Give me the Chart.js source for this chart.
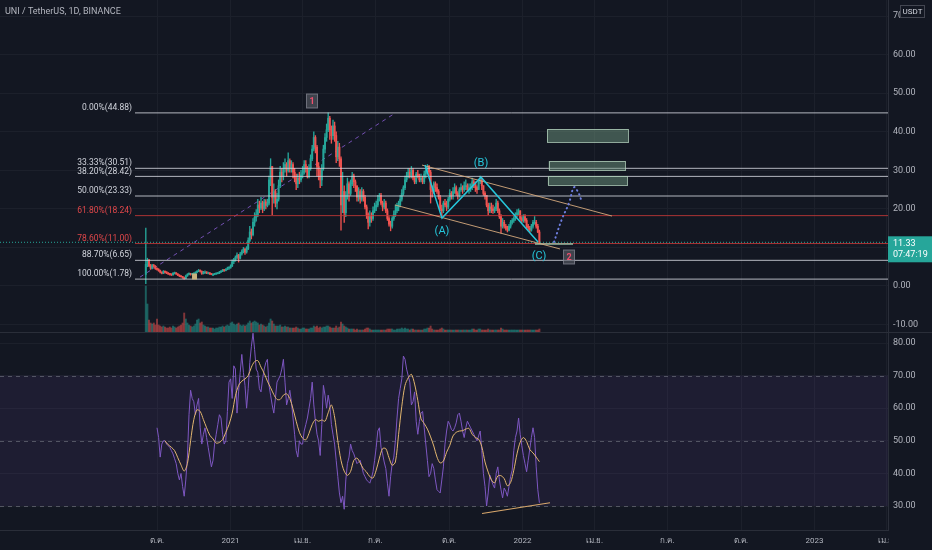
<!DOCTYPE html>
<html>
<head>
<meta charset="utf-8">
<script src="https://cdn.jsdelivr.net/npm/chart.js@4.4.1/dist/chart.umd.min.js"></script>
<style>
html, body { margin: 0; padding: 0; background: #131722; }
#wrap { position: relative; width: 932px; height: 550px; background: #131722; overflow: hidden; }
#price { position: absolute; left: 0; top: 0; }
#rsi { position: absolute; left: 0; top: 333px; }
#sep { position: absolute; left: 0; top: 332px; width: 932px; height: 1px; background: #2a2e39; }
</style>
</head>
<body>
<div id="wrap">
  <canvas id="price" width="932" height="332"></canvas>
  <div id="sep"></div>
  <canvas id="rsi" width="932" height="217"></canvas>
</div>
<script>
// ---- data (x values are days counted from 1 Sep 2020) ----
const title = 'UNI / TetherUS, 1D, BINANCE';
const tickDays = [30, 122, 212, 303, 395, 487, 577, 668, 760, 852, 942];
const tickLabels = ['ต.ค.', '2021', 'เม.ย.', 'ก.ค.', 'ต.ค.', '2022', 'เม.ย.', 'ก.ค.', 'ต.ค.', '2023', 'เม.ย.'];
const priceTicks = [-10, 0, 10, 20, 30, 40, 50, 60, 70];
const rsiTicks = [30, 40, 50, 60, 70, 80];

// 2-day candles from 17 Sep 2020 to 22 Jan 2022
const firstDay = 16, stepDays = 2, firstOpen = 3.0;
const closes = [
  5.6, 6.6, 5.2, 4.6, 5.3, 5.1, 4.5,
  4.3, 4.0, 3.6, 3.3, 3.8, 3.5, 3.4, 3.1, 3.0, 2.9, 3.3, 3.4, 3.1, 2.8, 2.6,
  2.4, 2.2, 1.95, 2.6, 3.0, 3.2, 3.0, 3.1, 3.2, 3.5, 3.8, 4.0, 3.8, 3.2, 3.6,
  3.6, 3.4, 3.4, 3.1, 3.0, 3.0, 3.1, 3.2, 3.3, 3.6, 3.8, 4.1, 4.0, 4.3, 4.6, 4.7,
  5.2, 6.3, 6.6, 7.4, 8.0, 7.2, 8.3, 8.9, 9.5, 8.8, 9.6, 11.8, 14.0, 13.3, 16.5, 17.8,
  18.5, 21.0, 20.2, 21.5, 20.0, 21.8, 20.9, 21.5, 27.5, 31.0, 23.0, 24.5, 21.5, 22.5,
  26.0, 29.5, 28.5, 30.5, 31.5, 30.0, 32.5, 30.5, 31.5, 29.5, 28.0, 26.5, 28.0, 27.5, 28.8,
  29.5, 31.5, 30.5, 28.5, 30.5, 33.0, 35.5, 38.5, 36.0, 31.0, 30.0, 27.5, 30.5, 35.5, 38.5,
  40.5, 43.5, 40.5, 39.0, 41.5, 39.0, 33.5, 36.0, 33.0, 21.0, 24.5, 19.0, 23.5, 26.5, 24.0,
  26.5, 28.5, 27.0, 26.0, 23.0, 24.5, 22.5, 24.5, 23.0, 20.5, 18.5, 16.5, 18.0, 17.5, 19.5, 20.5,
  21.0, 22.5, 23.5, 21.5, 20.5, 21.5, 19.5, 17.5, 16.0, 15.5, 17.5, 18.5, 19.5, 20.5, 21.0,
  22.5, 24.0, 25.5, 27.5, 28.5, 29.5, 28.5, 30.0, 28.0, 27.0, 29.0, 28.5, 27.5, 28.0, 27.0, 29.0,
  30.0, 31.0, 29.5, 25.0, 24.5, 26.5, 25.5, 24.5, 23.0, 20.0, 19.5, 21.5, 21.0, 20.5, 22.5,
  24.0, 23.5, 24.5, 25.5, 24.0, 23.5, 25.0, 25.5, 25.0, 26.0, 26.0, 25.0, 25.5, 25.5, 27.0,
  26.5, 25.5, 25.0, 27.0, 27.5, 26.0, 24.0, 23.5, 21.0, 19.5, 20.5, 20.0, 19.5, 20.0, 21.5,
  19.5, 18.0, 15.5, 16.5, 15.5, 15.0, 14.5, 15.5, 16.5, 17.0, 17.5, 18.5, 19.0, 19.5, 17.5, 17.0,
  18.0, 17.0, 15.5, 15.0, 14.5, 15.5, 16.5, 16.5, 15.5, 14.0, 11.33
];
const highs = [
  15.0, 7.2, 6.9, 5.6, 5.6, 5.6, 5.3,
  4.7, 4.5, 4.1, 3.7, 4.0, 3.9, 3.7, 3.5, 3.3, 3.1, 3.5, 3.6, 3.5, 3.2, 2.9,
  2.7, 2.5, 2.3, 2.8, 3.2, 3.4, 3.3, 3.3, 3.4, 3.7, 4.0, 4.3, 4.2, 3.9, 3.8,
  3.9, 3.7, 3.6, 3.5, 3.2, 3.2, 3.3, 3.4, 3.5, 3.8, 4.0, 4.3, 4.3, 4.5, 4.9, 5.0,
  5.5, 6.8, 7.2, 7.8, 8.6, 8.2, 8.7, 9.4, 10.0, 9.8, 10.2, 12.5, 15.5, 14.8, 17.5, 19.0,
  19.8, 22.5, 22.0, 23.0, 22.0, 22.5, 22.4, 22.5, 28.5, 33.0, 31.0, 26.5, 25.0, 24.0,
  27.5, 31.0, 30.5, 32.0, 33.0, 32.0, 34.5, 33.0, 32.5, 32.0, 30.5, 29.0, 29.0, 29.5, 30.0,
  31.0, 32.5, 32.5, 31.0, 31.5, 34.0, 36.5, 40.0, 39.0, 36.5, 32.0, 30.5, 31.5, 36.5, 39.5,
  42.0, 44.88, 44.0, 41.5, 43.0, 42.5, 40.0, 37.5, 37.0, 33.5, 29.5, 26.0, 24.5, 28.0, 27.0,
  27.5, 29.5, 29.0, 27.5, 26.0, 25.5, 25.0, 25.5, 25.0, 23.5, 21.0, 19.0, 19.5, 19.0, 20.5, 21.5,
  22.0, 23.5, 24.0, 24.0, 22.0, 22.5, 22.0, 20.0, 18.0, 16.8, 18.0, 19.5, 21.0, 21.5, 22.0,
  23.5, 25.0, 26.0, 28.5, 29.5, 30.5, 30.5, 31.0, 30.5, 28.5, 29.5, 30.0, 29.0, 29.0, 28.5, 29.8,
  31.0, 31.5, 31.3, 30.0, 26.0, 27.0, 27.0, 26.5, 25.0, 23.5, 21.0, 22.0, 22.5, 22.0, 23.0,
  25.0, 24.5, 25.5, 26.5, 26.0, 24.5, 25.5, 26.5, 26.0, 27.0, 27.5, 26.5, 26.5, 26.5, 28.0,
  27.5, 27.0, 26.0, 27.5, 28.5, 28.0, 26.0, 24.5, 23.5, 21.5, 21.5, 21.5, 21.0, 20.5, 22.5,
  22.0, 20.0, 18.5, 17.5, 17.0, 16.0, 15.5, 16.0, 17.0, 17.5, 18.0, 19.0, 19.8, 20.0, 19.5, 18.0,
  18.5, 18.5, 17.5, 16.0, 15.5, 16.0, 17.0, 18.0, 17.0, 16.0, 14.5
];
const lows = [
  0.6, 5.0, 5.0, 4.3, 4.4, 4.8, 4.3,
  4.1, 3.8, 3.4, 3.1, 3.2, 3.3, 3.2, 3.0, 2.8, 2.7, 2.8, 3.1, 3.0, 2.7, 2.4,
  2.3, 2.0, 1.78, 1.9, 2.5, 2.9, 2.8, 2.9, 3.0, 3.1, 3.4, 3.7, 3.6, 3.0, 3.1,
  3.3, 3.2, 3.2, 3.0, 2.9, 2.8, 2.9, 3.0, 3.1, 3.2, 3.5, 3.7, 3.8, 3.9, 4.2, 4.3,
  4.6, 5.0, 5.8, 6.4, 7.0, 6.2, 7.0, 8.0, 8.6, 8.2, 8.5, 9.4, 11.5, 12.2, 13.0, 15.5,
  16.8, 18.0, 19.0, 19.8, 19.0, 19.5, 20.0, 20.5, 21.0, 26.0, 18.5, 21.5, 20.5, 20.0,
  22.0, 25.5, 27.0, 27.5, 29.5, 28.5, 29.5, 29.5, 29.5, 28.0, 27.0, 25.0, 25.5, 26.5, 27.0,
  28.0, 29.0, 29.5, 28.0, 28.0, 30.0, 32.5, 35.0, 34.5, 28.5, 27.5, 25.5, 26.0, 30.0, 34.5,
  37.5, 40.0, 38.0, 37.0, 38.0, 37.5, 32.0, 32.5, 31.0, 14.5, 19.0, 16.5, 18.0, 22.5, 22.0,
  23.5, 26.0, 25.5, 24.5, 22.0, 22.0, 21.5, 22.0, 22.0, 20.0, 17.5, 14.8, 15.5, 16.5, 17.0, 19.0,
  19.5, 20.5, 22.0, 21.0, 19.5, 20.0, 19.0, 17.0, 15.5, 14.3, 15.0, 17.0, 18.0, 19.0, 19.5,
  20.5, 22.0, 23.5, 25.0, 27.0, 28.0, 28.0, 28.0, 27.5, 26.5, 26.5, 28.0, 27.0, 27.0, 26.5, 26.5,
  28.0, 29.5, 28.5, 21.5, 23.0, 24.0, 24.5, 24.0, 22.5, 19.5, 18.0, 19.0, 20.5, 19.5, 20.0,
  22.0, 22.5, 22.5, 24.0, 23.5, 22.5, 23.0, 24.5, 24.0, 24.5, 25.0, 24.5, 24.0, 24.5, 25.0,
  25.5, 24.5, 24.0, 25.0, 26.5, 25.0, 23.5, 22.5, 20.5, 18.5, 19.0, 19.0, 18.8, 19.0, 19.5,
  19.0, 17.5, 13.7, 15.0, 15.0, 14.5, 14.0, 14.3, 15.0, 16.0, 16.5, 17.0, 18.0, 18.5, 17.0, 16.5,
  16.5, 16.5, 15.0, 14.5, 14.0, 14.2, 15.0, 16.0, 15.0, 13.8, 11.0
];
const volumes = [
  46, 28, 12, 9, 8, 9, 7,
  13, 7, 6, 5, 6, 5, 4, 4, 5, 4, 6, 5, 4, 5, 6,
  7, 9, 19, 13, 9, 7, 6, 5, 6, 8, 12, 13, 9, 10, 7,
  6, 5, 5, 4, 4, 4, 3, 4, 4, 5, 5, 6, 5, 6, 7, 6,
  9, 10, 8, 7, 8, 9, 7, 6, 7, 6, 7, 9, 11, 9, 10, 11,
  10, 9, 7, 8, 7, 6, 5, 6, 9, 13, 11, 8, 6, 6,
  6, 7, 5, 5, 6, 5, 5, 4, 4, 4, 4, 5, 4, 3, 3,
  4, 4, 3, 3, 3, 4, 4, 6, 5, 6, 4, 5, 4, 5, 5,
  6, 6, 5, 4, 4, 4, 6, 4, 5, 10, 8, 6, 5, 4, 3,
  3, 3, 3, 2, 3, 2, 2, 2, 2, 3, 4, 4, 3, 2, 2, 2,
  2, 2, 2, 2, 2, 2, 2, 3, 3, 3, 3, 2, 2, 3, 3,
  3, 4, 3, 4, 3, 3, 2, 3, 3, 2, 2, 2, 2, 2, 2, 3,
  3, 4, 4, 6, 3, 2, 2, 2, 2, 3, 4, 3, 2, 2, 2,
  2, 2, 2, 2, 2, 2, 2, 2, 2, 2, 2, 2, 2, 2, 3,
  3, 2, 2, 3, 3, 2, 2, 2, 2, 3, 2, 2, 2, 2, 2,
  2, 2, 4, 3, 2, 2, 2, 2, 2, 2, 2, 2, 2, 2, 2, 2,
  2, 2, 2, 2, 2, 2, 2, 2, 2, 2, 3
];
const lastPrice = 11.33;
const lastTime = '07:47:19';

// fibonacci retracement
const fibStartDay = 2.5;
const fibPercents = [0, 33.33, 38.2, 50, 61.8, 78.6, 88.7, 100];
const fibPrices = [44.88, 30.51, 28.42, 23.33, 18.24, 11.00, 6.65, 1.78];

// drawings
const trendDays = [8.75, 327.5], trendPrices = [2.3, 44.8];
const upperDays = [361.25, 598.75], upperPrices = [31.35, 18.13];
const lowerDays = [327.5, 533.75], lowerPrices = [21.0, 9.6];
const waveDays = [365, 386.25, 435, 506.25], wavePrices = [31.35, 17.6, 28.2, 11.4];
const waveNames = ['(A)', '(B)', '(C)'];
const waveLabelDays = [386.25, 435, 507.5], waveLabelPrices = [14.25, 31.9, 7.8];
const projDays = [526.25, 536.25, 545, 551.25, 556.25, 560], projPrices = [11.4, 17.4, 21.5, 25.6, 24.4, 22.5];
const baseDays = [502.5, 550], basePrices = [10.9, 10.9];
const zoneFromDay = [517.5, 519.5, 518.5], zoneToDay = [618.75, 615, 617.5];
const zoneTop = [40.7, 32.4, 28.5], zoneBottom = [37.3, 30.0, 26.2];
const markNames = ['1', '2'], markDays = [223.75, 545.6], markPrices = [47.9, 7.4];
const eventDay = 76.9, eventPrice = 2.46;

// RSI (2-day samples from day 30) and its moving average (4-day samples from day 40)
const rsiStart = 30, rsiStep = 2;
const rsi = [
  54, 51, 45, 49, 50, 50, 49, 48.5, 48, 47,
  46, 44.5, 43, 40, 38, 40, 36, 33, 38, 45,
  58, 65.5, 63, 62, 58, 61, 63, 54, 49, 52,
  54, 51, 48, 45, 42, 44, 49, 52, 55, 58,
  57, 52, 49, 50, 59, 68, 69, 63, 73, 72,
  58.5, 65, 71, 76.5, 71, 67, 60, 66, 74, 79,
  83, 78, 72, 71, 66, 65, 69, 72, 74, 75,
  67, 64, 61, 58.5, 63, 68, 69, 70, 72, 75,
  68, 61, 63, 65.5, 62, 57, 52, 47, 45, 50,
  49, 49, 53, 55, 57, 60, 63, 68, 61, 56,
  52, 50, 45.5, 55, 67, 64, 60, 64, 61, 55,
  52, 49, 44, 39, 34, 31, 33, 29, 38, 43,
  45, 49, 47, 46, 44.5, 43, 43.5, 44, 42, 40,
  39, 38, 37.5, 37, 38.5, 40.5, 44, 48, 53, 54,
  48, 46, 43.5, 41.5, 37, 33, 39, 43, 45, 50,
  57, 63, 66, 69, 76, 75, 72, 70, 68, 61,
  62, 65, 56, 52, 56, 58.5, 59, 54, 49, 44,
  39, 40, 43, 41.5, 38, 35, 34.5, 34, 38, 42,
  49, 53, 56, 55, 53.5, 53, 54, 55.5, 58, 58.5,
  56, 53, 51, 54, 56, 55, 54, 53, 52, 51,
  50, 51.5, 53, 47, 40, 36, 30, 34, 39.5, 38,
  36.5, 35.5, 40, 42, 38, 35, 32.5, 35.5, 34.5, 33,
  36, 39, 41, 47, 51, 53, 57, 52, 48.5, 45.5,
  43, 40.5, 44, 47.5, 51, 54, 51, 42, 35, 31
];
const maStart = 40, maStep = 4;
const rsiMa = [
  50, 48.8, 48, 47, 44.8, 42.6, 40.7, 43, 50, 56.5,
  59.5, 59, 56.5, 54, 51.7, 50.6, 49.3, 49.5, 50.4, 52.6,
  55, 58.5, 63.8, 67, 68.3, 69, 70, 72.6, 74.3, 74.6,
  72.6, 70.7, 68.3, 66.3, 64.2, 62.7, 62.7, 64, 64.4, 63,
  59.8, 56, 52.6, 50.8, 50.3, 52.3, 55, 56.5, 56, 56.4,
  56, 58.6, 61, 57.3, 50, 44, 40.7, 39.4, 40.6, 44,
  44.7, 43.2, 41.4, 40.4, 39, 38.6, 41, 44.7, 47.6, 47.6,
  44.8, 42.5, 43.5, 52, 60.6, 67, 69.3, 70.4, 67.4, 62.4,
  56.8, 55.3, 53.6, 51.2, 48.4, 45, 43.2, 43.8, 46.5, 48.6,
  51.5, 52.6, 53, 53.1, 53.6, 53.8, 52, 51, 50.5, 48.2,
  43.5, 40.4, 38, 37.1, 39.2, 39.3, 38.4, 36.2, 37.2, 41,
  46, 49.6, 51, 49.8, 47.3, 46.3, 45, 43.6
];
const rsiBands = [70, 50, 30];
const divDays = [436.25, 521.25], divValues = [27.7, 31.0];

// ---- styling ----
const BG = '#131722', GRID = '#1c202b', AXIS = '#2a2e39', TXT = '#b2b5be';
const UP = '#26a69a', DOWN = '#ef5350';
const xMin = -166.25, xMax = 943.75;
Chart.defaults.font.family = "Roboto, 'Noto Sans', 'DejaVu Sans', sans-serif";
Chart.defaults.color = TXT;

const pts = (xs, ys) => xs.map((x, i) => ({ x: x, y: ys[i] }));
const candles = closes.map((c, i) => ({
  x: firstDay + i * stepDays,
  o: i ? closes[i - 1] : firstOpen,
  h: highs[i], l: lows[i], c: c
}));
const candleColor = candles.map(k => k.c >= k.o ? UP : DOWN);
const volColor = candles.map(k => k.c >= k.o ? 'rgba(38,166,154,0.5)' : 'rgba(239,83,80,0.5)');
const isRed = p => p === 61.8 || p === 78.6;

function line(data, color, width, order, extra) {
  return Object.assign({ type: 'line', data: data, borderColor: color, borderWidth: width,
    pointRadius: 0, fill: false, order: order }, extra || {});
}

// right-hand value axis, 44px wide, with no edge padding so the plot fills the pane
function valueAxis(min, max, ticks) {
  return {
    position: 'right', min: min, max: max,
    afterBuildTicks: s => { s.ticks = ticks.map(v => ({ value: v })); },
    afterFit: s => { s.width = 44; s.paddingTop = 0; s.paddingBottom = 0; },
    ticks: { color: TXT, font: { size: 9 }, padding: 5, callback: v => v.toFixed(2) },
    grid: { color: GRID, drawTicks: false },
    border: { color: AXIS }
  };
}

const xAxisCommon = {
  type: 'linear', min: xMin, max: xMax, offset: false,
  afterBuildTicks: s => { s.ticks = tickDays.map(v => ({ value: v })); },
  grid: { color: GRID, drawTicks: false, offset: false }
};

const pricePlugin = {
  id: 'priceDrawings',
  afterDatasetsDraw(chart) {
    const { ctx, scales: { x, y } } = chart;
    ctx.save();
    // target zones
    zoneTop.forEach((t, i) => {
      const x0 = x.getPixelForValue(zoneFromDay[i]), x1 = x.getPixelForValue(zoneToDay[i]);
      const y0 = y.getPixelForValue(t), y1 = y.getPixelForValue(zoneBottom[i]);
      ctx.fillStyle = 'rgba(110,150,125,0.5)';
      ctx.fillRect(x0, y0, x1 - x0, y1 - y0);
      ctx.strokeStyle = 'rgba(175,205,185,0.8)';
      ctx.lineWidth = 1;
      ctx.strokeRect(Math.round(x0) + 0.5, Math.round(y0) + 0.5, Math.round(x1 - x0), Math.round(y1 - y0));
    });
    // fib labels
    ctx.font = '8.5px Roboto';
    ctx.textAlign = 'right';
    ctx.textBaseline = 'middle';
    fibPercents.forEach((p, i) => {
      ctx.fillStyle = isRed(p) ? '#e0474a' : '#d1d4dc';
      ctx.fillText(p.toFixed(2) + '%(' + fibPrices[i].toFixed(2) + ')',
        x.getPixelForValue(fibStartDay) - 3, y.getPixelForValue(fibPrices[i]) - 5);
    });
    // wave labels
    ctx.font = '11px Roboto';
    ctx.textAlign = 'center';
    ctx.fillStyle = '#26c6da';
    waveNames.forEach((n, i) => {
      ctx.fillText(n, x.getPixelForValue(waveLabelDays[i]), y.getPixelForValue(waveLabelPrices[i]));
    });
    // numbered markers
    ctx.font = 'bold 9px Roboto';
    markNames.forEach((n, i) => {
      const cx = Math.round(x.getPixelForValue(markDays[i])), cy = Math.round(y.getPixelForValue(markPrices[i]));
      ctx.fillStyle = 'rgba(93,96,107,0.6)';
      ctx.fillRect(cx - 5.5, cy - 7, 11, 14);
      ctx.strokeStyle = 'rgba(140,143,154,0.7)';
      ctx.strokeRect(cx - 5.5, cy - 7, 11, 14);
      ctx.fillStyle = '#f0506e';
      ctx.fillText(n, cx, cy + 0.5);
    });
    // event marker
    const ex = x.getPixelForValue(eventDay), ey = y.getPixelForValue(eventPrice);
    ctx.fillStyle = '#c9b37e';
    ctx.fillRect(ex - 2.5, ey - 3, 5, 6);
    ctx.restore();
  },
  afterDraw(chart) {
    const { ctx, chartArea: a, scales: { y } } = chart;
    ctx.save();
    // title
    ctx.font = '9px Roboto';
    ctx.textAlign = 'left';
    ctx.textBaseline = 'middle';
    ctx.fillStyle = TXT;
    ctx.fillText(title, 5, 12);
    // currency tag
    ctx.fillStyle = BG;
    ctx.fillRect(a.right + 12, 5, 25, 12);
    ctx.strokeStyle = '#434651';
    ctx.strokeRect(a.right + 12.5, 5.5, 24, 12);
    ctx.fillStyle = '#d1d4dc';
    ctx.font = '8px Roboto';
    ctx.textAlign = 'center';
    ctx.fillText('USDT', a.right + 24.5, 11.5);
    // last price tag
    const py = y.getPixelForValue(lastPrice);
    ctx.fillStyle = UP;
    ctx.fillRect(a.right, py - 6, chart.width - a.right, 26);
    ctx.fillStyle = '#ffffff';
    ctx.font = '9px Roboto';
    ctx.textAlign = 'left';
    ctx.fillText(lastPrice.toFixed(2), a.right + 5, py + 1);
    ctx.fillText(lastTime, a.right + 5, py + 12.5);
    ctx.restore();
  }
};

new Chart(document.getElementById('price'), {
  type: 'bar',
  data: {
    datasets: [
      line(pts(projDays, projPrices), '#6f7fe0', 2, 1, { tension: 0.4, borderDash: [0.5, 4], borderCapStyle: 'round' }),
      line(pts(waveDays, wavePrices), '#26c6da', 1.5, 2),
      line(pts(upperDays, upperPrices), 'rgba(214,170,125,0.9)', 1, 3),
      line(pts(lowerDays, lowerPrices), 'rgba(214,170,125,0.9)', 1, 3),
      line(pts(baseDays, basePrices), 'rgba(160,205,175,0.9)', 1.5, 3),
      ...fibPrices.map((p, i) => line(pts([fibStartDay, xMax], [p, p]),
        isRed(fibPercents[i]) ? 'rgba(200,55,55,0.85)' : 'rgba(209,212,220,0.85)', 1, 4)),
      line(pts([xMin, xMax], [lastPrice, lastPrice]), UP, 1, 5, { borderDash: [1, 2] }),
      { type: 'bar', data: candles.map(k => ({ x: k.x, y: [k.o, k.c] })), backgroundColor: candleColor,
        barThickness: 1.3, minBarLength: 1, grouped: false, order: 6 },
      { type: 'bar', data: candles.map(k => ({ x: k.x, y: [k.l, k.h] })), backgroundColor: candleColor,
        barThickness: 0.7, grouped: false, order: 7 },
      line(pts(trendDays, trendPrices), 'rgba(126,87,194,0.9)', 1, 8, { borderDash: [4, 4] }),
      { type: 'bar', yAxisID: 'vol', data: volumes.map((v, i) => ({ x: candles[i].x, y: v })),
        backgroundColor: volColor, barThickness: 1.3, grouped: false, order: 9 }
    ]
  },
  options: {
    responsive: false,
    animation: false,
    layout: { padding: 0 },
    plugins: { legend: { display: false }, tooltip: { enabled: false } },
    scales: {
      x: Object.assign({}, xAxisCommon, {
        afterFit: s => { s.height = 0; s.paddingLeft = 0; s.paddingRight = 0; },
        ticks: { display: false },
        border: { display: false }
      }),
      y: valueAxis(-11.93, 74.15, priceTicks),
      vol: { display: false, min: 0, max: 332 }
    }
  },
  plugins: [pricePlugin]
});

const rsiPlugin = {
  id: 'rsiBand',
  beforeDatasetsDraw(chart) {
    const { ctx, chartArea: a, scales: { y } } = chart;
    const top = y.getPixelForValue(rsiBands[0]), bot = y.getPixelForValue(rsiBands[2]);
    ctx.save();
    ctx.fillStyle = 'rgba(126,87,194,0.1)';
    ctx.fillRect(a.left, top, a.right - a.left, bot - top);
    ctx.setLineDash([4, 4]);
    ctx.strokeStyle = 'rgba(120,123,134,0.6)';
    ctx.lineWidth = 1;
    rsiBands.forEach(v => {
      const py = Math.round(y.getPixelForValue(v)) + 0.5;
      ctx.beginPath(); ctx.moveTo(a.left, py); ctx.lineTo(a.right, py); ctx.stroke();
    });
    ctx.restore();
  },
  afterDraw(chart) {
    const { ctx, chartArea: a } = chart;
    ctx.save();
    ctx.fillStyle = BG;
    ctx.fillRect(a.right + 1, a.bottom + 1, chart.width - a.right, chart.height - a.bottom);
    ctx.restore();
  }
};

new Chart(document.getElementById('rsi'), {
  type: 'line',
  data: {
    datasets: [
      line(pts(divDays, divValues), '#d9a86c', 1.2, 1),
      line(rsiMa.map((v, i) => ({ x: maStart + i * maStep, y: v })), '#e3b66f', 1, 2, { tension: 0.3 }),
      line(rsi.map((v, i) => ({ x: rsiStart + i * rsiStep, y: v })), '#7e57c2', 1, 3)
    ]
  },
  options: {
    responsive: false,
    animation: false,
    layout: { padding: 0 },
    plugins: { legend: { display: false }, tooltip: { enabled: false } },
    scales: {
      x: Object.assign({}, xAxisCommon, {
        afterFit: s => { s.height = 20; s.paddingLeft = 0; s.paddingRight = 0; },
        ticks: { color: TXT, font: { size: 8 }, padding: 6, autoSkip: false, maxRotation: 0,
          callback: v => tickLabels[tickDays.indexOf(v)] },
        border: { color: AXIS }
      }),
      y: valueAxis(22.64, 83.07, rsiTicks)
    }
  },
  plugins: [rsiPlugin]
});
</script>
</body>
</html>
